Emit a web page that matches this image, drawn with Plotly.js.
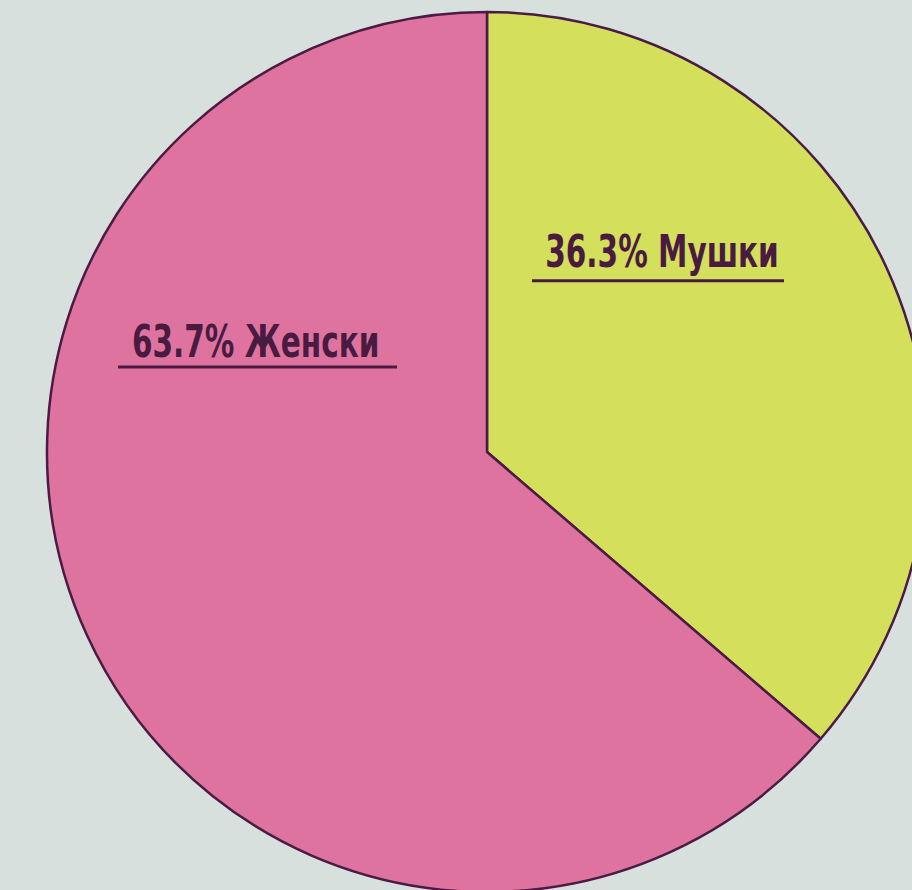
<!DOCTYPE html>
<html>
<head>
<meta charset="utf-8">
<script src="https://cdn.plot.ly/plotly-3.0.1.min.js"></script>
<style>
  html, body { margin: 0; padding: 0; width: 912px; height: 890px; overflow: hidden; background: #d7e0dc; }
  #chart { position: absolute; left: -13px; top: -48px; width: 1000px; height: 1000px; }
</style>
</head>
<body>
<div id="chart"></div>
<script>
const labels = ["Мушки", "Женски"];
const values = [36.3, 63.7];
const colors = ["#d4df5b", "#df739f"];

// label placement (paper coords of the 1000x1000 plot area)
const labelPos = [
  {x: 0.6745, y: 0.701},
  {x: 0.268, y: 0.6105}
];
const underlinePos = [
  {x0: 0.545, x1: 0.797, y: 0.6713},
  {x0: 0.131, x1: 0.410, y: 0.585}
];
const textColor = "#4a1b41";

const trace = {
  type: "pie",
  labels: labels,
  values: values,
  sort: false,
  direction: "clockwise",
  rotation: 0,
  textinfo: "none",
  hoverinfo: "label+percent",
  marker: { colors: colors, line: { color: "#4a1b45", width: 2.5 } },
  domain: { x: [0.06, 0.94], y: [0.06, 0.94] },
  showlegend: false
};

const annotations = labels.map((l, i) => ({
  xref: "paper", yref: "paper",
  x: labelPos[i].x, y: labelPos[i].y,
  xanchor: "center", yanchor: "middle",
  showarrow: false,
  text: values[i].toFixed(1) + "% " + l,
  font: { family: "DejaVu Sans Condensed, DejaVu Sans, sans-serif", size: 45, weight: 700, color: textColor }
}));

const shapes = underlinePos.map(u => ({
  type: "line", xref: "paper", yref: "paper",
  x0: u.x0, x1: u.x1, y0: u.y, y1: u.y,
  line: { color: textColor, width: 3 }
}));

Plotly.newPlot("chart", [trace], {
  width: 1000, height: 1000,
  margin: { l: 0, r: 0, t: 0, b: 0 },
  paper_bgcolor: "#d7e0dc",
  plot_bgcolor: "#d7e0dc",
  annotations: annotations,
  shapes: shapes
}, { displayModeBar: false }).then(() => {
  // condense the label text horizontally to mimic the narrow display face
  document.querySelectorAll(".annotation-text").forEach(t => {
    const b = t.getBBox();
    const cx = b.x + b.width / 2;
    const s = 0.73;
    t.setAttribute("transform", `translate(${cx},0) scale(${s},1) translate(${-cx},0)`);
  });
});
</script>
</body>
</html>
